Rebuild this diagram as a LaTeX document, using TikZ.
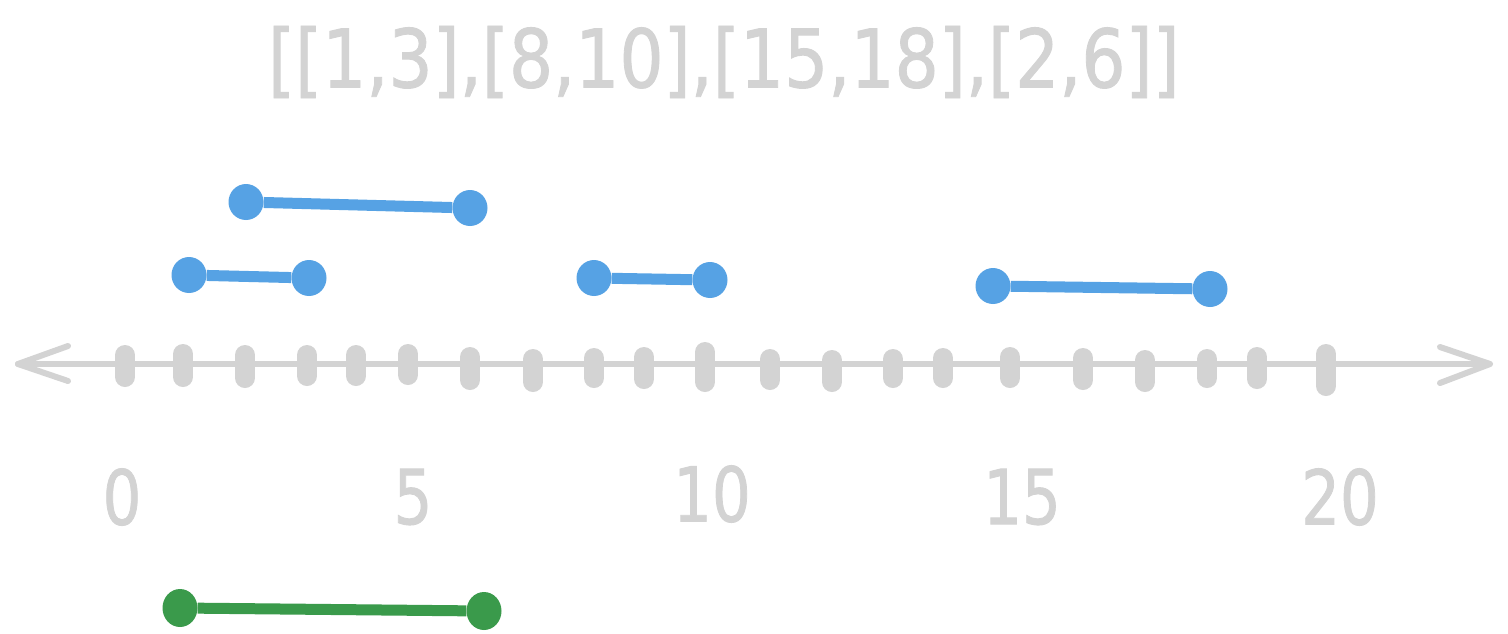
\documentclass[tikz,border=0pt]{standalone}
\usepackage{fontspec}
\setmainfont{DejaVu Sans}
\newfontfamily\handfont[FakeBold=1.2]{DejaVu Sans}
\usetikzlibrary{shapes.geometric}
\definecolor{axgray}{HTML}{D3D3D3}
\definecolor{ivblue}{HTML}{56A2E4}
\definecolor{ivgreen}{HTML}{3A9A4B}
\newcommand\numlabel[1]{\scalebox{1}[1.24]{\handfont\fontsize{61}{61}\selectfont #1}}
\tikzset{
  axisline/.style={draw=axgray, line width=6pt, line cap=round, line join=round},
  tickmark/.style={draw=axgray, line width=20pt, line cap=round},
  bdot/.style={ellipse, fill=ivblue, minimum width=35pt, minimum height=36pt, inner sep=0pt},
  gdot/.style={ellipse, fill=ivgreen, minimum width=35pt, minimum height=38pt, inner sep=0pt},
  blink/.style={draw=ivblue, line width=11pt},
  glink/.style={draw=ivgreen, line width=11pt},
  numtext/.style={text=axgray, inner sep=0pt, anchor=center},
}
\begin{document}
\begin{tikzpicture}[x=1pt, y=-1pt]
\useasboundingbox[fill=white] (0,0) rectangle (1508,633);

% title
\node[numtext] (title) at (724,62) {\resizebox*{912pt}{72pt}{\handfont\fontsize{60}{60}\selectfont [[1,3],[8,10],[15,18],[2,6]]}};

% axis
\coordinate (axL) at (18,364);
\coordinate (axR) at (1490,364);
\draw[axisline] (axL) -- (axR);
\draw[axisline] (68,346) -- (axL) -- (68,381);
\draw[axisline] (1440,347) -- (axR) -- (1440,383);

% ticks: x, top, bottom
\foreach \x/\t/\b in {125/355/377, 183/354/377, 245/355/378, 307/355/376, 356/355/376,
  408/354/375, 470/357/380, 533/359/382, 594/358/378, 644/357/379, 705/352/382,
  770/359/380, 832/360/382, 893/359/378, 943/358/378, 1010/357/378, 1083/358/380,
  1145/360/382, 1207/359/378, 1257/357/379, 1326/354/386}
  \draw[tickmark] (\x,\t) -- (\x,\b);

% axis labels
\node[numtext] (l0) at (122,497) {\numlabel{0}};
\node[numtext] (l5) at (413,497) {\numlabel{5}};
\node[numtext] (l10) at (712,494) {\numlabel{10}};
\node[numtext] (l15) at (1022,497) {\numlabel{15}};
\node[numtext] (l20) at (1340,497) {\numlabel{20}};

% intervals
\node[bdot] (a1) at (246,202) {};
\node[bdot] (a2) at (470,208) {};
\draw[blink] (a1) -- (a2);

\node[bdot] (b1) at (189,275) {};
\node[bdot] (b2) at (309,278) {};
\draw[blink] (b1) -- (b2);

\node[bdot] (c1) at (594,278) {};
\node[bdot] (c2) at (710,280) {};
\draw[blink] (c1) -- (c2);

\node[bdot] (d1) at (993,286) {};
\node[bdot] (d2) at (1210,289) {};
\draw[blink] (d1) -- (d2);

% merged
\node[gdot] (m1) at (180,608) {};
\node[gdot] (m2) at (484,611) {};
\draw[glink] (m1) -- (m2);
\end{tikzpicture}
\end{document}
